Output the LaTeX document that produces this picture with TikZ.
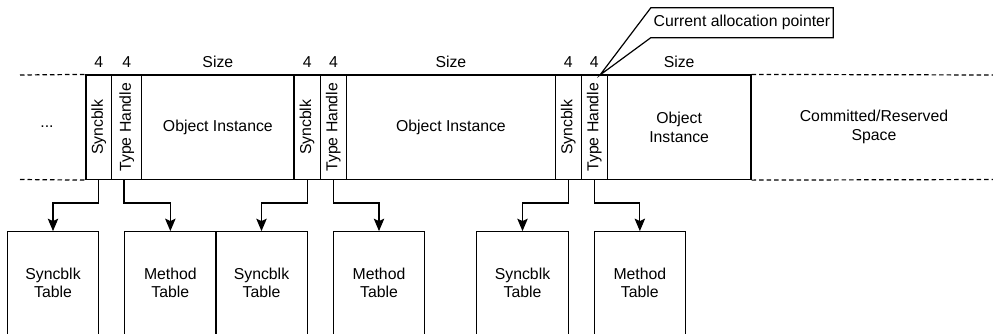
\documentclass[tikz,border=0pt]{standalone}
\usepackage{fontspec}
\setmainfont{Liberation Sans}
\usetikzlibrary{arrows.meta,calc}

\tikzset{
  every node/.style={font=\fontsize{15.8}{18.4}\selectfont, inner sep=0pt},
  cell/.style={draw, line width=1.2pt, minimum height=104.5pt, anchor=center},
  tbl/.style={draw, line width=1.2pt, minimum width=91.4pt, minimum height=102.6pt, align=center},
  sizelbl/.style={anchor=center},
  link/.style={line width=1.2pt, -{Stealth[length=12.5pt,width=10.5pt,inset=2.5pt]}},
  gap/.style={line width=1.2pt, dash pattern=on 4.5pt off 3pt},
  callout/.style={draw, line width=1.2pt, fill=white}
}

\begin{document}
\begin{tikzpicture}[x=1pt,y=-1pt]
\useasboundingbox (0,0) rectangle (993,333);
\clip (0,0) rectangle (993,333);

% ---- heap row ----
\node[cell, minimum width=25.7pt]  (sb1) at (98.85,127.25)  {\rotatebox{90}{Syncblk}};
\node[cell, minimum width=30pt]    (th1) at (126.7,127.25)  {\rotatebox{90}{Type Handle}};
\node[cell, minimum width=152.3pt] (oi1) at (217.85,127.25) {Object Instance};
\node[cell, minimum width=26.3pt]  (sb2) at (307.15,127.25) {\rotatebox{90}{Syncblk}};
\node[cell, minimum width=26.2pt]  (th2) at (333.4,127.25)  {\rotatebox{90}{Type Handle}};
\node[cell, minimum width=208.8pt] (oi2) at (450.9,127.25)  {Object Instance};
\node[cell, minimum width=26pt]    (sb3) at (568.3,127.25)  {\rotatebox{90}{Syncblk}};
\node[cell, minimum width=26pt]    (th3) at (594.3,127.25)  {\rotatebox{90}{Type Handle}};
\node[cell, minimum width=143.7pt, align=center] (oi3) at (679.15,127.25) {Object\\Instance};

\node (dots) at (47,127) {...};
\node[align=center] (free) at (874,127) {Committed/Reserved\\Space};

% open ends of the heap
\coordinate (lt) at (20,75);
\coordinate (lb) at (20,179.5);
\coordinate (rt) at (993,75);
\coordinate (rb) at (993,179.5);
\draw[gap] (lt) -- (sb1.north west);
\draw[gap] (lb) -- (sb1.south west);
\draw[gap] (oi3.north east) -- (rt);
\draw[gap] (oi3.south east) -- (rb);

% ---- sizes ----
\node[sizelbl] (s1) at (sb1.north |- 0,61.7) {4};
\node[sizelbl] (s2) at (th1.north |- 0,61.7) {4};
\node[sizelbl] (s3) at (oi1.north |- 0,61.7) {Size};
\node[sizelbl] (s4) at (sb2.north |- 0,61.7) {4};
\node[sizelbl] (s5) at (th2.north |- 0,61.7) {4};
\node[sizelbl] (s6) at (oi2.north |- 0,61.7) {Size};
\node[sizelbl] (s7) at (sb3.north |- 0,61.7) {4};
\node[sizelbl] (s8) at (th3.north |- 0,61.7) {4};
\node[sizelbl] (s9) at (oi3.north |- 0,61.7) {Size};

% ---- allocation pointer callout ----
\coordinate (ptr) at (600,75);
\node[minimum width=182pt, minimum height=29.5pt] (cap) at (742,22.75) {Current allocation pointer};
\draw[line width=1.2pt, line join=miter] (cap.north west) -- (cap.north east) -- (cap.south east)
  -- (cap.south west) -- (ptr) -- cycle;

% ---- tables ----
\node[tbl] (st1) at (53,283)     {Syncblk\\Table};
\node[tbl] (mt1) at (170.35,283) {Method\\Table};
\node[tbl] (st2) at (261.5,283)  {Syncblk\\Table};
\node[tbl] (mt2) at (379,283)    {Method\\Table};
\node[tbl] (st3) at (522.5,283)  {Syncblk\\Table};
\node[tbl] (mt3) at (639.85,283) {Method\\Table};

% ---- references ----
\draw[link] (sb1.south) -- ++(0,22.8) -| (st1.north);
\draw[link] (mt1.north west |- th1.south) -- ++(0,22.8) -| (mt1.north);
\draw[link] (sb2.south) -- ++(0,22.8) -| (st2.north);
\draw[link] (th2.south) -- ++(0,22.8) -| (mt2.north);
\draw[link] (sb3.south) -- ++(0,22.8) -| (st3.north);
\draw[link] (th3.south) -- ++(0,22.8) -| (mt3.north);
\end{tikzpicture}
\end{document}
